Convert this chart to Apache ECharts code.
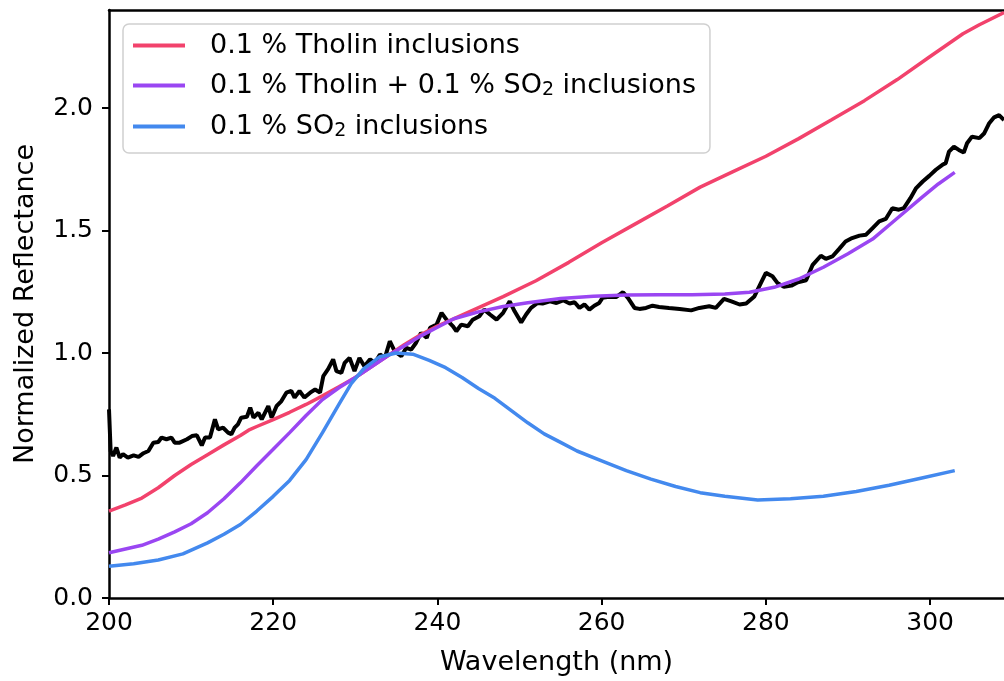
<!DOCTYPE html>
<html>
<head>
<meta charset="utf-8">
<script src="https://cdn.jsdelivr.net/npm/echarts@6/dist/echarts.min.js"></script>
<style>
html,body{margin:0;padding:0;background:#fff;}
#chart{width:1004px;height:681px;}
</style>
</head>
<body>
<div id="chart"></div>
<script>
// Observed spectrum (black)
const obsWl = [200.0,200.2,200.5,200.9,201.3,201.7,202.3,203.0,203.6,204.2,204.8,205.4,206.0,206.4,207.0,207.6,208.0,208.6,209.5,210.1,210.7,211.3,211.7,212.3,212.9,213.3,213.9,214.5,214.9,215.3,215.7,216.1,216.8,217.2,217.6,218.2,218.6,219.4,219.8,220.4,221.0,221.6,222.2,222.6,223.2,223.8,224.5,225.1,225.7,226.1,226.7,227.3,227.7,228.3,228.7,229.3,229.9,230.5,231.1,231.8,232.4,233.0,233.6,234.2,234.8,235.6,236.2,236.8,237.4,238.0,238.7,239.1,239.9,240.5,241.1,241.9,242.3,242.9,243.7,244.3,245.1,245.7,246.4,247.2,248.0,248.8,249.4,250.2,250.8,251.4,252.2,252.8,253.7,254.5,255.3,256.1,256.7,257.3,257.9,258.5,259.1,259.7,260.1,260.9,261.8,262.6,263.2,264.0,264.6,265.4,266.2,267.0,268.2,269.5,270.9,271.9,273.1,273.9,274.9,275.8,276.8,277.6,278.6,279.4,280.0,280.8,281.4,282.2,283.1,283.9,284.9,285.7,286.7,287.3,288.1,288.9,289.7,290.5,291.4,292.2,293.0,293.8,294.6,295.4,296.2,296.8,297.6,298.3,299.1,299.9,300.7,301.5,301.9,302.3,302.9,303.5,304.1,304.5,305.1,306.0,306.6,307.2,307.8,308.4,309.0];
const obsRefl = [0.77,0.60,0.58,0.614,0.573,0.587,0.573,0.582,0.576,0.591,0.600,0.634,0.637,0.655,0.648,0.655,0.634,0.634,0.648,0.661,0.664,0.623,0.655,0.655,0.729,0.688,0.695,0.675,0.668,0.695,0.709,0.736,0.740,0.777,0.736,0.756,0.729,0.783,0.736,0.783,0.804,0.838,0.845,0.818,0.845,0.818,0.838,0.851,0.838,0.906,0.935,0.974,0.926,0.919,0.960,0.980,0.926,0.980,0.946,0.974,0.960,0.994,0.980,1.048,1.007,0.987,1.021,1.014,1.042,1.082,1.062,1.103,1.116,1.164,1.136,1.109,1.089,1.116,1.109,1.136,1.150,1.177,1.157,1.136,1.164,1.211,1.170,1.125,1.157,1.184,1.204,1.202,1.211,1.204,1.215,1.202,1.207,1.184,1.198,1.177,1.193,1.204,1.225,1.229,1.229,1.248,1.225,1.184,1.180,1.184,1.193,1.188,1.184,1.180,1.174,1.184,1.191,1.184,1.221,1.211,1.198,1.202,1.231,1.286,1.327,1.313,1.286,1.270,1.275,1.289,1.297,1.360,1.397,1.384,1.394,1.424,1.455,1.469,1.479,1.483,1.510,1.537,1.547,1.591,1.585,1.591,1.632,1.673,1.700,1.723,1.748,1.768,1.775,1.822,1.842,1.829,1.818,1.856,1.883,1.877,1.897,1.938,1.962,1.971,1.951];

// Model: 0.1 % Tholin inclusions
const tholinWl = [200,202,204,206,208,210,212,214,216,217,218,220,222,224,226,228,230,232,234,236,238,240,244,248,252,256,260,264,268,272,276,280,284,288,292,296,300,304,306,309];
const tholinRefl = [0.355,0.38,0.408,0.45,0.50,0.545,0.585,0.625,0.663,0.685,0.70,0.728,0.758,0.79,0.825,0.862,0.90,0.945,0.99,1.035,1.075,1.11,1.17,1.23,1.295,1.37,1.45,1.525,1.60,1.677,1.74,1.803,1.875,1.952,2.03,2.116,2.21,2.303,2.34,2.39];

// Model: 0.1 % Tholin + 0.1 % SO2 inclusions
const mixWl = [200,202,204,206,208,210,212,214,216,218,220,222,224,226,228,230,232,234,236,238,240,242,245,248,251,255,259,263,267,271,275,278,281,284,287,290,293,296,299,301,303];
const mixRefl = [0.185,0.20,0.215,0.24,0.27,0.303,0.348,0.405,0.47,0.54,0.607,0.675,0.745,0.81,0.858,0.90,0.945,0.99,1.03,1.07,1.105,1.14,1.168,1.19,1.205,1.222,1.232,1.237,1.238,1.238,1.241,1.248,1.268,1.302,1.35,1.405,1.465,1.55,1.635,1.69,1.737];

// Model: 0.1 % SO2 inclusions
const so2Wl = [200,203,206,209,212,214,216,218,220,222,224,226,228,229.5,231,233,235,237,239,241,243,245,247,249,251,253,255,257,260,263,266,269,272,275,279,283,287,291,295,299,303];
const so2Refl = [0.13,0.14,0.155,0.18,0.225,0.26,0.30,0.355,0.415,0.48,0.565,0.675,0.79,0.875,0.935,0.985,1.0,0.995,0.97,0.94,0.90,0.855,0.815,0.765,0.715,0.67,0.635,0.60,0.56,0.52,0.485,0.455,0.43,0.415,0.40,0.405,0.415,0.435,0.46,0.49,0.52];

const seriesNames = ['0.1 % Tholin inclusions', '0.1 % Tholin + 0.1 % SO2 inclusions', '0.1 % SO2 inclusions'];
const xTicks = [200, 220, 240, 260, 280, 300];
const yTicks = [0, 0.5, 1.0, 1.5, 2.0];

const zip = (a, b) => a.map((v, i) => [v, b[i]]);
const FONT = 'DejaVu Sans';

const chart = echarts.init(document.getElementById('chart'), null, {renderer: 'canvas'});
const lineSeries = (name, data, color, width, z) => ({
  name, type: 'line', data, showSymbol: false, symbol: 'none', smooth: false,
  lineStyle: {color, width}, itemStyle: {color}, z, animation: false
});

chart.setOption({
  backgroundColor: '#fff',
  animation: false,
  grid: {left: 109, right: 0, top: 10, bottom: 82, containLabel: false},
  legend: {
    orient: 'vertical', left: 123, top: 24,
    data: seriesNames,
    icon: 'rect', itemWidth: 52, itemHeight: 4, itemGap: 13,
    padding: [8, 14, 12, 10],
    borderColor: '#d0d0d0', borderWidth: 1.5, borderRadius: 6,
    backgroundColor: 'rgba(255,255,255,0.8)',
    formatter: n => n.replace(/SO2/g, 'SO{sub|2}'),
    textStyle: {
      fontFamily: FONT, fontSize: 27, color: '#000', padding: [0, 0, 0, 20],
      rich: {sub: {fontFamily: FONT, fontSize: 19, color: '#000', padding: [10, 0, 0, 0]}}
    }
  },
  xAxis: [{
    type: 'value', min: 200, max: 309, interval: 20,
    name: 'Wavelength (nm)', nameLocation: 'middle', nameGap: 51,
    nameTextStyle: {fontFamily: FONT, fontSize: 27, color: '#000'},
    axisLine: {show: true, onZero: false, lineStyle: {color: '#000', width: 2.5}},
    axisTick: {show: true, inside: false, length: 7, lineStyle: {color: '#000', width: 2}, customValues: xTicks},
    axisLabel: {fontFamily: FONT, fontSize: 25, color: '#000', margin: 13, customValues: xTicks},
    splitLine: {show: false}
  }, {
    type: 'value', position: 'top', min: 200, max: 309,
    axisLine: {show: true, onZero: false, lineStyle: {color: '#000', width: 2.5}},
    axisTick: {show: false}, axisLabel: {show: false}, splitLine: {show: false}
  }],
  yAxis: {
    type: 'value', min: 0, max: 2.4, interval: 0.5,
    name: 'Normalized Reflectance', nameLocation: 'middle', nameGap: 70,
    nameTextStyle: {fontFamily: FONT, fontSize: 27, color: '#000'},
    axisLine: {show: true, onZero: false, lineStyle: {color: '#000', width: 2.5}},
    axisTick: {show: true, inside: false, length: 7, lineStyle: {color: '#000', width: 2}, customValues: yTicks},
    axisLabel: {fontFamily: FONT, fontSize: 25, color: '#000', margin: 16, customValues: yTicks, formatter: v => v.toFixed(1)},
    splitLine: {show: false}
  },
  series: [
    lineSeries('observed', zip(obsWl, obsRefl), '#000000', 4, 2),
    lineSeries(seriesNames[0], zip(tholinWl, tholinRefl), '#f2426c', 3.5, 3),
    lineSeries(seriesNames[1], zip(mixWl, mixRefl), '#9a46f2', 3.5, 4),
    lineSeries(seriesNames[2], zip(so2Wl, so2Refl), '#4389ee', 3.5, 5)
  ]
});
</script>
</body>
</html>
